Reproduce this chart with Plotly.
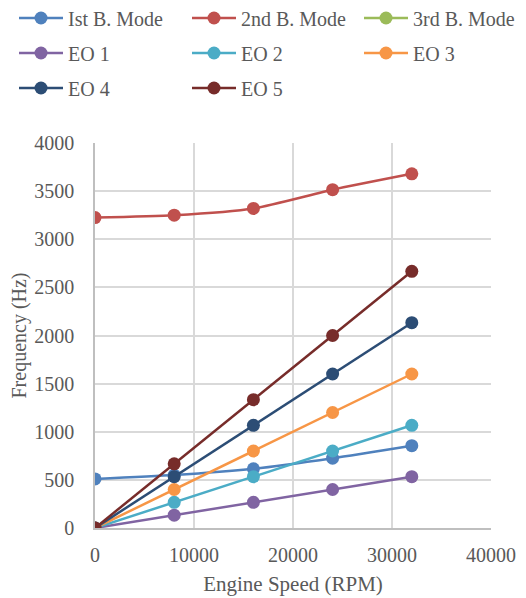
import plotly.graph_objects as go

speed = [0, 8000, 16000, 24000, 32000]
mode1 = [510, 550, 615, 725, 855]
mode2 = [3225, 3250, 3320, 3515, 3680]
mode3 = [6500, 6550, 6650, 6800, 7000]  # off-scale (not visible in reference)
eo1 = [0, 133, 267, 400, 533]
eo2 = [0, 267, 533, 800, 1067]
eo3 = [0, 400, 800, 1200, 1600]
eo4 = [0, 533, 1067, 1600, 2133]
eo5 = [0, 667, 1333, 2000, 2667]

names = ["Ist B. Mode", "2nd B. Mode", "3rd B. Mode", "EO 1", "EO 2", "EO 3", "EO 4", "EO 5"]
values = [mode1, mode2, mode3, eo1, eo2, eo3, eo4, eo5]
colors = ["#4F81BD", "#C0504D", "#9BBB59", "#8064A2", "#4BACC6", "#F79646", "#2C4D75", "#772C2A"]
shapes = ["spline", "spline", "spline", "linear", "linear", "linear", "linear", "linear"]

FONT = "Liberation Serif"
TXT = "#595959"

# page body adds an 8px offset, so the figure is 8px smaller and shifted
L, R, T, B = 87, 35, 135, 70
W, HH = 518, 590
PW, PH = W - L - R, HH - T - B

col_px = [6, 179, 351]
row_px = [10, 45, 80]

fig = go.Figure()
layout_legends = {}
for i, (name, vals, color, shape) in enumerate(zip(names, values, colors, shapes)):
    key = "legend" if i == 0 else f"legend{i + 1}"
    fig.add_trace(go.Scatter(
        x=speed, y=vals, name=name, mode="lines+markers",
        line=dict(color=color, width=2.5, shape=shape, smoothing=0.6),
        marker=dict(color=color, size=13),
        legend=key, cliponaxis=True, showlegend=True,
    ))
    r, c = divmod(i, 3)
    layout_legends[key] = dict(
        orientation="h", font=dict(family=FONT, size=20, color=TXT),
        xanchor="left", yanchor="middle",
        x=(col_px[c] - L) / PW, y=(HH - B - row_px[r]) / PH,
        bgcolor="rgba(0,0,0,0)", itemwidth=44,
    )

fig.update_layout(
    width=W, height=HH, showlegend=True,
    margin=dict(l=L, r=R, t=T, b=B, autoexpand=False),
    paper_bgcolor="white", plot_bgcolor="white",
    font=dict(family=FONT, size=20, color=TXT),
    **layout_legends,
    xaxis=dict(range=[0, 40000], dtick=10000, tickformat="d", showgrid=True, gridcolor="#d9d9d9", gridwidth=1.5,
               showline=True, linecolor="#bfbfbf", linewidth=1.5, zeroline=False,
               tickfont=dict(family=FONT, size=20, color=TXT), ticks="", ticklabelstandoff=8,
               title=dict(text="Engine Speed (RPM)", font=dict(family=FONT, size=21, color=TXT), standoff=12)),
    yaxis=dict(range=[0, 4000], dtick=500, tickformat="d", showgrid=True, gridcolor="#d9d9d9", gridwidth=1.5,
               showline=True, linecolor="#bfbfbf", linewidth=1.5, zeroline=False,
               tickfont=dict(family=FONT, size=20, color=TXT), ticks="", ticklabelstandoff=15,
               title=dict(text="Frequency (Hz)", font=dict(family=FONT, size=20, color=TXT), standoff=6)),
)

fig.write_html("out.html")
